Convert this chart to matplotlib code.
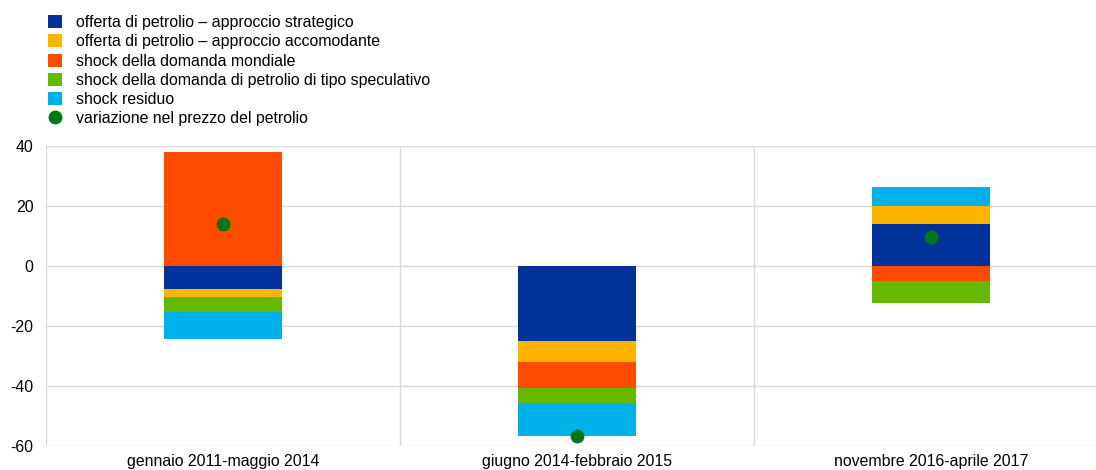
import matplotlib
matplotlib.use("Agg")
import matplotlib.pyplot as plt
import numpy as np
from matplotlib.patches import Patch
from matplotlib.lines import Line2D

plt.rcParams['font.family'] = ['Liberation Sans', 'DejaVu Sans']
plt.rcParams['axes.unicode_minus'] = False

categories = ["gennaio 2011-maggio 2014", "giugno 2014-febbraio 2015", "novembre 2016-aprile 2017"]
series_names = [
    "offerta di petrolio – approccio strategico",
    "offerta di petrolio – approccio accomodante",
    "shock della domanda mondiale",
    "shock della domanda di petrolio di tipo speculativo",
    "shock residuo",
]
strategic = [-7.8, -25.0, 13.9]
accommodating = [-2.4, -7.0, 6.0]
global_demand = [38.0, -8.5, -5.0]
speculative = [-5.0, -5.3, -7.4]
residual = [-9.1, -11.0, 6.5]
price_change = [13.9, -56.8, 9.6]
dot_label = "variazione nel prezzo del petrolio"

colors = ["#003299", "#FFB400", "#FF4B00", "#65B800", "#00B1EA"]
dot_color = "#007816"

FS = 11.4

fig = plt.figure(figsize=(10.96, 4.70), dpi=100)
ax = fig.add_axes([46/1096, 1-446/470, 1-46/1096, 300/470])

x = np.arange(len(categories))
width = 1/3
series = [strategic, accommodating, global_demand, speculative, residual]
pos_base = np.zeros(len(categories))
neg_base = np.zeros(len(categories))
for vals, c in zip(series, colors):
    v = np.array(vals, dtype=float)
    bottom = np.where(v >= 0, pos_base, neg_base)
    ax.bar(x, v, width, bottom=bottom, color=c, edgecolor='none', zorder=2)
    pos_base += np.where(v >= 0, v, 0)
    neg_base += np.where(v < 0, v, 0)

ax.scatter(x, price_change, s=80, color=dot_color, zorder=3)

ax.set_ylim(-60, 40)
ax.set_yticks(np.arange(-60, 41, 20))
ax.set_xlim(-0.5, 2.5 - 12/354)
ax.set_xticks(x)
ax.set_xticklabels(categories)
for b in [-0.5, 0.5, 1.5]:
    ax.axvline(b, color='#d9d9d9', lw=1, zorder=0)
ax.yaxis.grid(True, color='#d9d9d9', lw=1, zorder=0)
ax.set_axisbelow(True)
for s in ax.spines.values():
    s.set_visible(False)
ax.tick_params(axis='both', length=0, labelsize=FS, colors='#000000')
ax.tick_params(axis='x', pad=5.5)
ax.tick_params(axis='y', pad=9)

handles = [Patch(facecolor=c, edgecolor='none') for c in colors]
handles.append(Line2D([], [], marker='o', color=dot_color, linestyle='none', markersize=9))
labels = series_names + [dot_label]
fig.legend(handles, labels, loc='upper left', bbox_to_anchor=(48/1096, 1-15/470),
           frameon=False, fontsize=FS, handlelength=0.88, handleheight=0.88,
           handletextpad=0.9, labelspacing=0.27, borderaxespad=0, borderpad=0)

fig.savefig("out.png", dpi=100)
